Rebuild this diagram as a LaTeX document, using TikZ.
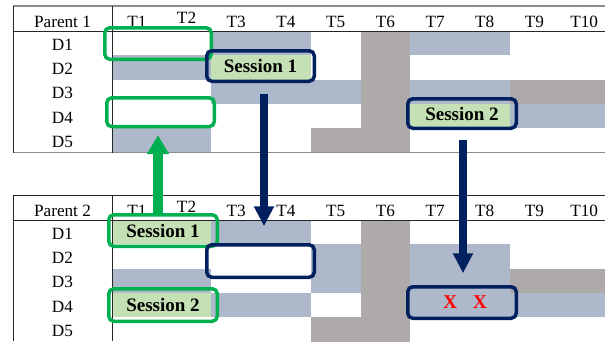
\documentclass[tikz,border=0pt]{standalone}
\usepackage{fontspec}
\setmainfont{Liberation Serif}
\usetikzlibrary{arrows.meta}
\definecolor{barblue}{HTML}{ADB9CA}
\definecolor{bargray}{HTML}{AEAAAA}
\definecolor{sessgreen}{HTML}{C5E0B4}
\definecolor{gborder}{HTML}{00B050}
\definecolor{navyc}{HTML}{002060}
\definecolor{xred}{HTML}{FF0000}
% #1 colour, #2 table top of first row, #3 first row, #4 last row, #5 first col, #6 last col
\newcommand\blk[6]{\fill[#1] ({112+49.7*(#5-1)},{#2+24.3*(#3-1)}) rectangle ({112+49.7*#6},{#2+24.3*#4});}
\begin{document}
\begin{tikzpicture}[x=1pt,y=-1pt,
  lbl/.style={font=\fontsize{17.2}{19}\selectfont, inner sep=0pt, anchor=base},
  sess/.style={font=\fontsize{19}{21}\selectfont\bfseries},
  dline/.style={line width=1pt, draw=black!85},
  gline/.style={line width=1.6pt, draw=black!45},
  gbox/.style={draw=gborder, line width=3.5pt, rounded corners=5pt, inner sep=0pt},
  nbox/.style={draw=navyc, line width=3.5pt, rounded corners=5pt, inner sep=0pt},
  narrow/.style={draw=navyc, line width=8pt, -{Triangle[length=20pt,width=19pt]}},
  garrow/.style={draw=gborder, line width=10pt, -{Triangle[length=19pt,width=21pt]}}]
\useasboundingbox (0,0) rectangle (605,341);
% ---------- Parent 1 cells
\blk{barblue}{31}{1}{1}{3}{4}
\blk{barblue}{31}{1}{1}{7}{8}
\blk{barblue}{31}{2}{2}{1}{2}
\blk{sessgreen}{31}{2}{2}{3}{4}
\blk{barblue}{31}{3}{3}{3}{5}
\blk{barblue}{31}{3}{3}{7}{8}
\blk{bargray}{31}{3}{3}{9}{10}
\blk{sessgreen}{31}{4}{4}{7}{8}
\blk{barblue}{31}{4}{4}{9}{10}
\blk{barblue}{31}{5}{5}{1}{2}
\blk{bargray}{31}{5}{5}{5}{5}
\blk{bargray}{31}{1}{5}{6}{6}
% ---------- Parent 2 cells
\blk{sessgreen}{220}{1}{1}{1}{2}
\blk{barblue}{220}{1}{1}{3}{4}
\blk{barblue}{220}{2}{2}{5}{5}
\blk{barblue}{220}{2}{3}{7}{8}
\blk{barblue}{220}{3}{3}{1}{2}
\blk{barblue}{220}{3}{3}{5}{5}
\blk{bargray}{220}{3}{3}{9}{10}
\blk{sessgreen}{220}{4}{4}{1}{2}
\blk{barblue}{220}{4}{4}{3}{4}
\blk{barblue}{220}{4}{4}{7}{8}
\blk{barblue}{220}{4}{4}{9}{10}
\blk{bargray}{220}{5}{5}{5}{5}
\blk{bargray}{220}{1}{5}{6}{6}
% ---------- table rules
\draw[gline] (13,6) -- (605,6);
\draw[dline] (13,31) -- (605,31);
\draw[gline] (13,152.5) -- (605,152.5);
\draw[dline] (13,6) -- (13,152.5);
\draw[dline] (112,6) -- (112,152.5);
\draw[dline] (13,195) -- (605,195);
\draw[dline] (13,220) -- (605,220);
\draw[dline] (13,195) -- (13,341);
\draw[dline] (112,195) -- (112,341);
% ---------- labels
\node[lbl] (p1) at (62.5,27.3) {Parent 1};
\node[lbl] (p2) at (62.5,216) {Parent 2};
\foreach \i in {1,...,10}{
  \ifnum\i=2
    \node[lbl] (ta\i) at ({112+49.7*(\i-0.5)},23.5) {T\i};
    \node[lbl] (tb\i) at ({112+49.7*(\i-0.5)},212.5) {T\i};
  \else
    \node[lbl] (ta\i) at ({112+49.7*(\i-0.5)},27) {T\i};
    \node[lbl] (tb\i) at ({112+49.7*(\i-0.5)},216) {T\i};
  \fi
}
\foreach \r in {1,...,5}{
  \node[lbl] (da\r) at (62.5,{31+24.3*(\r-0.5)+7}) {D\r};
  \node[lbl] (db\r) at (62.5,{220+24.3*(\r-0.5)+7}) {D\r};
}
% ---------- boxes
\node[gbox, minimum width=106.5pt, minimum height=31.5pt] (ga1) at (158,43.5) {};
\node[gbox, minimum width=107.5pt, minimum height=28.8pt] (ga4) at (160.5,112.2) {};
\node[nbox, sess, minimum width=107.5pt, minimum height=30.5pt] (na1) at (260.5,66) {Session 1};
\node[nbox, sess, minimum width=108.5pt, minimum height=29.5pt] (na2) at (462,113.5) {Session 2};
\node[gbox, sess, minimum width=108.5pt, minimum height=31.5pt] (gb1) at (163,230.5) {Session 1};
\node[gbox, sess, minimum width=108.5pt, minimum height=32.5pt] (gb4) at (163,305) {Session 2};
\node[nbox, minimum width=107.5pt, minimum height=32.5pt] (nb1) at (260.5,261) {};
\node[nbox, minimum width=108.5pt, minimum height=31.5pt, font=\fontsize{19.5}{21}\selectfont\bfseries, text=xred, text depth=0pt] (nb2) at (462,302.5) {\hspace{6pt}X\hspace{0.8em}X};
% ---------- arrows
\draw[narrow, shorten <=10.75pt, shorten >=16.75pt] ([xshift=3.5pt]na1.south) -- ([xshift=3.5pt]nb1.north);
\draw[narrow, shorten <=9.75pt, shorten >=11.75pt] ([xshift=1pt]na2.south) -- ([xshift=1pt]nb2.north);
\draw[garrow, shorten <=0pt, shorten >=6.8pt] ([xshift=-5pt]gb1.north) -- ([xshift=-2.5pt]ga4.south);
\end{tikzpicture}
\end{document}
